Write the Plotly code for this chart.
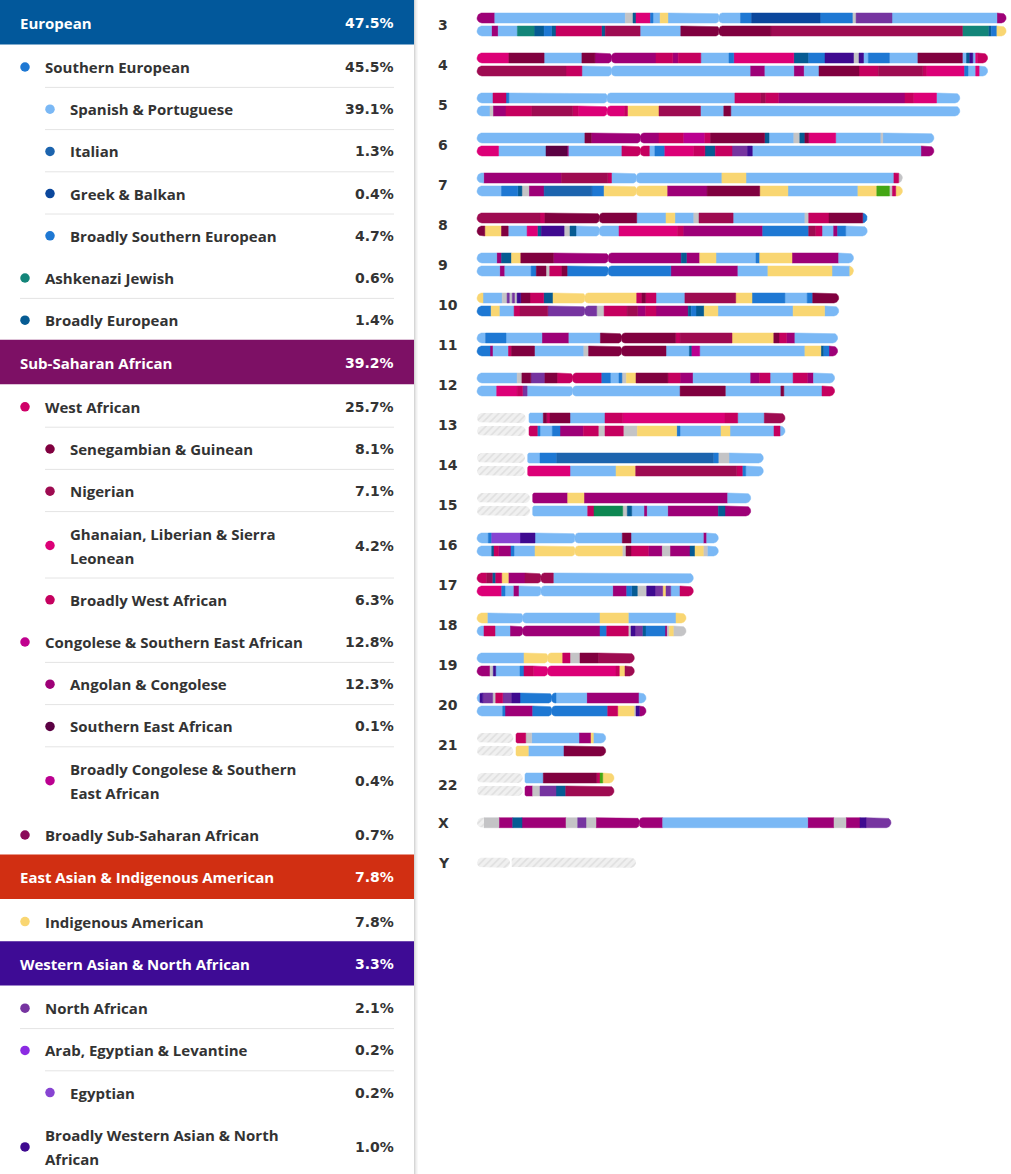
import math
import plotly.graph_objects as go

W, H = 1011, 1174

# ---------------- Palette ----------------
PAL = {
    "hdr_eu": "#02589B", "hdr_ssa": "#7D1065", "hdr_ea": "#D12F12", "hdr_wa": "#3E0B95",
    "lb": "#7AB8F5", "bl": "#1E78D3", "it": "#1C64AE", "gb": "#0B479C", "be": "#065B93",
    "aj": "#138579", "waf": "#CF0068", "ghl": "#DC0077", "bwa": "#C5005F", "nig": "#9E0B51",
    "sen": "#80003F", "cse": "#C0008E", "ang": "#9E0077", "sea": "#5B0143", "bcs": "#BB0090",
    "bss": "#8A0B5A", "ind": "#F9D672", "naf": "#7634A0", "arab": "#8B2BE2", "egy": "#8744D2",
    "bwana": "#3F0A90", "gray": "#C4C4C6", "grn": "#44A614", "grn2": "#0E8752",
}

# ---------------- Left panel data ----------------
ROW_LABELS = [
    "European", "Southern European", "Spanish & Portuguese", "Italian", "Greek & Balkan",
    "Broadly Southern European", "Ashkenazi Jewish", "Broadly European",
    "Sub-Saharan African", "West African", "Senegambian & Guinean", "Nigerian",
    "Ghanaian, Liberian & Sierra\nLeonean", "Broadly West African",
    "Congolese & Southern East African", "Angolan & Congolese", "Southern East African",
    "Broadly Congolese & Southern\nEast African", "Broadly Sub-Saharan African",
    "East Asian & Indigenous American", "Indigenous American",
    "Western Asian & North African", "North African", "Arab, Egyptian & Levantine",
    "Egyptian", "Broadly Western Asian & North\nAfrican",
]
ROW_PCTS = [47.5, 45.5, 39.1, 1.3, 0.4, 4.7, 0.6, 1.4,
            39.2, 25.7, 8.1, 7.1, 4.2, 6.3, 12.8, 12.3, 0.1, 0.4, 0.7,
            7.8, 7.8, 3.3, 2.1, 0.2, 0.2, 1.0]
ROW_LEVELS = [0, 1, 2, 2, 2, 2, 1, 1,
              0, 1, 2, 2, 2, 2, 1, 2, 2, 2, 1,
              0, 1, 0, 1, 1, 2, 1]
ROW_COLORS = ["hdr_eu", "bl", "lb", "it", "gb", "bl", "aj", "be",
              "hdr_ssa", "waf", "sen", "nig", "ghl", "bwa", "cse", "ang", "sea", "bcs", "bss",
              "hdr_ea", "ind", "hdr_wa", "naf", "arab", "egy", "bwana"]

# ---------------- Chromosome painting data (positions in px from chromosome start) ----------------
CHR3_A = [(17.8,'ang'),(148.3,'lb'),(156.0,'gray'),(159.0,'be'),(173.4,'ghl'),(176.0,'bl'),(183.1,'lb'),(190.9,'ind'),(263.5,'lb'),(274.6,'bl'),(343.1,'gb'),(375.4,'bl'),(379.1,'gray'),(415.0,'naf'),(519.9,'lb'),(529.1,'ang')]
CHR3_B = [(14.5,'lb'),(21.2,'ang'),(40.4,'lb'),(57.1,'aj'),(67.1,'be'),(74.5,'bl'),(79.0,'be'),(124.5,'bwa'),(128.2,'be'),(163.1,'nig'),(203.8,'lb'),(293.9,'sen'),(485.4,'nig'),(511.3,'aj'),(514.3,'be'),(519.9,'bl'),(529.1,'ind')]
CHR4_A = [(31.9,'ghl'),(67.1,'sen'),(104.9,'lb'),(117.9,'sen'),(179.0,'ang'),(195.7,'bwa'),(201.2,'ang'),(223.8,'bwa'),(252.0,'lb'),(256.8,'bl'),(316.8,'ghl'),(331.7,'be'),(348.0,'bl'),(376.5,'bwana'),(382.0,'gray'),(386.5,'bwana'),(391.3,'lb'),(412.4,'bl'),(440.9,'lb'),(485.4,'sen'),(489.5,'lb'),(492.8,'be'),(495.8,'bwana'),(498.7,'lb'),(500.6,'ghl'),(510.6,'bwa')]
CHR4_B = [(89.0,'nig'),(104.9,'bwa'),(273.1,'lb'),(287.9,'ang'),(316.8,'lb'),(327.2,'ang'),(342.0,'lb'),(382.0,'sen'),(401.3,'bwa'),(445.8,'nig'),(449.5,'bwa'),(487.6,'ghl'),(491.0,'bl'),(498.7,'lb'),(502.1,'ghl'),(510.6,'lb')]
CHR5_A = [(16.0,'lb'),(29.0,'bwa'),(31.9,'bl'),(257.9,'lb'),(283.9,'bwa'),(288.3,'nig'),(301.3,'bwa'),(428.0,'ang'),(436.5,'bwa'),(459.5,'ghl'),(482.8,'lb')]
CHR5_B = [(13.0,'lb'),(16.0,'gray'),(29.0,'ang'),(54.9,'bwa'),(95.6,'nig'),(101.2,'bwa'),(147.5,'ghl'),(150.5,'bwa'),(182.0,'ind'),(223.5,'nig'),(246.8,'lb'),(253.8,'sen'),(482.8,'lb')]
CHR6_A = [(107.9,'lb'),(114.2,'sen'),(182.0,'ang'),(206.8,'bwa'),(227.2,'bcs'),(233.5,'bwa'),(287.6,'sen'),(292.0,'be'),(316.8,'lb'),(322.8,'gray'),(327.9,'be'),(331.7,'sen'),(358.7,'ghl'),(403.9,'lb'),(405.8,'gray'),(456.9,'lb')]
CHR6_B = [(21.5,'ghl'),(69.0,'lb'),(90.1,'sea'),(91.9,'ang'),(144.9,'lb'),(172.3,'bwa'),(177.9,'lb'),(187.2,'bl'),(216.8,'ghl'),(227.9,'bwa'),(238.3,'be'),(255.0,'bwa'),(270.5,'naf'),(275.3,'bwana'),(443.9,'lb'),(456.9,'ang')]
CHR7_A = [(6.7,'lb'),(84.5,'ang'),(130.8,'nig'),(134.5,'bwa'),(244.9,'lb'),(269.0,'ind'),(416.9,'lb'),(421.7,'bwa'),(425.4,'gray')]
CHR7_B = [(24.5,'lb'),(40.8,'bl'),(44.9,'be'),(51.9,'gray'),(67.1,'ang'),(114.9,'it'),(127.1,'bl'),(190.1,'ind'),(230.1,'ang'),(282.7,'sen'),(310.9,'ind'),(380.9,'lb'),(399.8,'ind'),(412.4,'grn'),(415.4,'gray'),(418.7,'bwa'),(425.4,'ind')]
CHR8_A = [(63.0,'nig'),(67.9,'bwa'),(159.7,'sen'),(189.0,'lb'),(197.9,'ind'),(216.8,'lb'),(222.0,'gray'),(256.1,'nig'),(327.9,'lb'),(331.7,'gray'),(352.0,'bwa'),(385.7,'sen'),(390.2,'bl')]
CHR8_B = [(7.8,'sen'),(24.5,'ind'),(31.2,'sen'),(50.1,'lb'),(60.4,'ghl'),(64.2,'be'),(87.1,'bwana'),(93.0,'gray'),(99.0,'be'),(142.0,'lb'),(200.5,'ghl'),(206.1,'bwa'),(285.7,'ang'),(331.7,'bl'),(338.3,'nig'),(345.0,'bwa'),(356.1,'lb'),(360.6,'ang'),(368.7,'bl'),(390.2,'lb')]
CHR9_A = [(19.7,'lb'),(24.5,'ang'),(34.5,'be'),(43.8,'ind'),(76.4,'sen'),(204.2,'ang'),(209.4,'be'),(222.7,'ang'),(239.0,'ind'),(279.0,'lb'),(282.7,'bl'),(315.0,'ind'),(361.7,'ang'),(376.5,'lb')]
CHR9_B = [(22.7,'lb'),(27.8,'ang'),(54.1,'lb'),(59.3,'bl'),(69.0,'sen'),(72.7,'gray'),(84.9,'bwa'),(90.1,'sen'),(193.8,'bl'),(260.9,'ang'),(290.9,'lb'),(355.0,'ind'),(372.8,'lb'),(376.5,'ind')]
CHR10_A = [(6.0,'ind'),(25.2,'lb'),(30.1,'gray'),(32.3,'naf'),(35.3,'gray'),(37.5,'naf'),(40.1,'gray'),(43.8,'bwana'),(53.0,'sen'),(66.7,'bwa'),(76.0,'be'),(159.7,'ind'),(164.9,'bwa'),(168.6,'sen'),(179.0,'bwa'),(207.9,'lb'),(258.7,'nig'),(275.0,'ind'),(307.9,'bl'),(330.2,'lb'),(335.7,'bl'),(361.7,'sen')]
CHR10_B = [(14.1,'bl'),(22.3,'ind'),(37.1,'lb'),(43.0,'bwa'),(70.8,'nig'),(119.7,'naf'),(127.1,'gray'),(150.1,'bwa'),(160.5,'nig'),(168.6,'ang'),(179.0,'bwa'),(211.2,'ang'),(214.2,'be'),(219.0,'bl'),(227.2,'be'),(240.9,'ind'),(316.1,'lb'),(347.6,'ind'),(361.7,'lb')]
CHR11_A = [(8.6,'lb'),(29.0,'bl'),(64.9,'lb'),(91.9,'ang'),(123.4,'lb'),(198.6,'sen'),(203.1,'bwa'),(255.0,'nig'),(296.8,'ind'),(302.0,'sen'),(309.4,'bwa'),(317.9,'ang'),(360.6,'lb')]
CHR11_B = [(13.0,'bl'),(16.0,'ang'),(31.5,'lb'),(34.5,'bwa'),(57.5,'sen'),(106.8,'lb'),(111.6,'gray'),(189.0,'sen'),(212.4,'lb'),(214.9,'be'),(222.7,'bcs'),(327.9,'lb'),(343.9,'ind'),(346.8,'be'),(352.0,'bl'),(360.6,'ang')]
CHR12_A = [(40.1,'lb'),(44.9,'gray'),(53.8,'sen'),(67.9,'naf'),(80.1,'sen'),(124.2,'bwa'),(133.4,'bl'),(142.0,'lb'),(144.9,'bl'),(149.4,'gray'),(159.0,'ind'),(190.9,'sen'),(203.1,'bwa'),(216.1,'ang'),(273.1,'lb'),(282.7,'ang'),(293.1,'bwa'),(316.1,'lb'),(330.2,'bwa'),(336.5,'ang'),(357.6,'lb')]
CHR12_B = [(19.7,'lb'),(40.1,'ghl'),(45.6,'bwa'),(50.1,'naf'),(203.1,'lb'),(248.3,'sen'),(303.9,'lb'),(306.8,'sen'),(345.0,'lb'),(357.6,'bwa')]
CHR13_A = [(48.7,'na'),(52.0,None),(66.3,'lb'),(69.7,'sen'),(73.0,'bwa'),(93.0,'sen'),(128.0,'lb'),(145.7,'bwa'),(248.0,'ghl'),(260.7,'bwa'),(287.3,'lb'),(308.0,'nig')]
CHR13_B = [(48.7,'na'),(52.0,None),(60.3,'bwa'),(63.0,'bl'),(75.3,'lb'),(83.0,'bl'),(106.3,'ang'),(121.3,'bwa'),(128.0,'gray'),(146.3,'bwa'),(160.3,'gray'),(199.7,'ind'),(203.0,'bl'),(244.0,'lb'),(253.0,'ind'),(297.0,'lb'),(303.0,'bwa'),(308.0,'lb')]
CHR14_A = [(48.0,'na'),(50.7,None),(63.0,'lb'),(79.7,'bl'),(236.3,'it'),(241.3,'bl'),(252.0,'gray'),(286.3,'lb')]
CHR14_B = [(48.0,'na'),(50.7,None),(93.0,'ghl'),(139.0,'lb'),(158.7,'ind'),(259.7,'nig'),(265.3,'bwa'),(268.7,'bl'),(286.3,'lb')]
CHR15_A = [(53.0,'na'),(55.7,None),(90.7,'ang'),(107.0,'ind'),(250.7,'ang'),(273.7,'lb')]
CHR15_B = [(53.0,'na'),(55.7,None),(110.7,'lb'),(117.0,'bwa'),(145.7,'grn2'),(150.3,'gray'),(154.7,'be'),(167.0,'lb'),(170.3,'ang'),(190.7,'lb'),(241.3,'ang'),(248.0,'be'),(273.7,'ang')]
CHR16_A = [(11.3,'lb'),(14.7,'bl'),(43.0,'egy'),(58.0,'bwana'),(145.3,'lb'),(154.0,'sen'),(226.3,'lb'),(229.7,'ang'),(241.3,'lb')]
CHR16_B = [(14.7,'lb'),(17.0,'be'),(21.3,'bwa'),(34.0,'ang'),(37.0,'bl'),(58.0,'lb'),(145.3,'ind'),(149.0,'gray'),(154.0,'sen'),(171.3,'bwa'),(185.3,'ang'),(193.0,'gray'),(213.0,'ang'),(218.0,'be'),(226.3,'ind'),(230.3,'gray'),(241.3,'lb')]
CHR17_A = [(9.7,'bwa'),(15.3,'nig'),(18.7,'be'),(24.7,'bwa'),(31.3,'ind'),(48.0,'ang'),(76.3,'nig'),(216.3,'lb')]
CHR17_B = [(24.7,'ghl'),(28.0,'bl'),(36.3,'lb'),(42.0,'ang'),(135.7,'lb'),(149.7,'ang'),(154.7,'bl'),(160.3,'be'),(169.7,'gray'),(178.0,'bwana'),(185.7,'naf'),(189.0,'ind'),(193.7,'naf'),(203.0,'lb'),(216.3,'bwa')]
CHR18_A = [(10.3,'ind'),(123.0,'lb'),(151.3,'ind'),(199.0,'lb'),(209.0,'ind')]
CHR18_B = [(7.0,'lb'),(18.0,'bwa'),(33.0,'lb'),(123.0,'ang'),(129.7,'bl'),(151.3,'bwa'),(154.0,'gray'),(158.0,'bwana'),(165.3,'naf'),(169.0,'be'),(188.0,'bl'),(190.3,'ang'),(192.3,'gray'),(196.3,'ind'),(209.0,'gray')]
CHR19_A = [(47.0,'lb'),(85.7,'ind'),(93.0,'bwa'),(103.0,'gray'),(121.3,'sen'),(157.3,'nig')]
CHR19_B = [(13.0,'ang'),(16.3,'gray'),(18.7,'bwana'),(43.0,'lb'),(47.0,'bl'),(56.3,'bwa'),(139.0,'ghl'),(142.3,'bwa'),(148.0,'ind'),(157.3,'nig')]
CHR20_A = [(3.0,'lb'),(5.7,'bwana'),(15.7,'naf'),(18.7,'gray'),(25.7,'bwa'),(34.7,'naf'),(43.0,'bwana'),(79.0,'bl'),(109.7,'lb'),(162.0,'ang'),(169.0,'lb')]
CHR20_B = [(25.7,'lb'),(28.0,'bl'),(55.7,'ang'),(130.7,'bl'),(140.7,'bwa'),(157.0,'ind'),(159.0,'gray'),(162.3,'bwana'),(169.0,'ang')]
CHR21_A = [(36.3,'na'),(39.0,None),(48.7,'bwa'),(54.7,'gray'),(102.0,'lb'),(114.0,'ang'),(116.3,'ind'),(128.7,'lb')]
CHR21_B = [(36.3,'na'),(39.0,None),(51.3,'ind'),(87.0,'lb'),(128.7,'sen')]
CHR22_A = [(45.7,'na'),(48.0,None),(66.3,'lb'),(119.7,'sen'),(123.0,'bwa'),(125.7,'grn'),(137.0,'ind')]
CHR22_B = [(45.7,'na'),(48.0,None),(55.7,'ang'),(63.0,'gray'),(79.0,'naf'),(88.7,'be'),(137.0,'nig')]
CHR_X = [(7.0,'na'),(22.0,'gray'),(35.7,'ang'),(45.0,'be'),(89.0,'ang'),(100.7,'gray'),(109.0,'naf'),(119.0,'gray'),(185.7,'ang'),(330.7,'lb'),(357.0,'ang'),(369.0,'gray'),(383.0,'ang'),(389.0,'bwana'),(414.0,'naf')]
CHR_Y = [(33.0,'na'),(34.7,None),(159.0,'na')]

CHROM_NAMES = ["3", "4", "5", "6", "7", "8", "9", "10", "11", "12", "13", "14", "15",
               "16", "17", "18", "19", "20", "21", "22", "X", "Y"]
CENTROMERES = [242.0, 134.5, 130.1, 163.4, 159.4, 122.3, 131.2, 107.9, 144.5, 95.6,
               None, None, None, 98.0, 64.0, 45.7, 70.7, 74.7, None, None, 162.3, None]
CHROM_STRANDS = [
    [CHR3_A, CHR3_B], [CHR4_A, CHR4_B], [CHR5_A, CHR5_B], [CHR6_A, CHR6_B],
    [CHR7_A, CHR7_B], [CHR8_A, CHR8_B], [CHR9_A, CHR9_B], [CHR10_A, CHR10_B],
    [CHR11_A, CHR11_B], [CHR12_A, CHR12_B], [CHR13_A, CHR13_B], [CHR14_A, CHR14_B],
    [CHR15_A, CHR15_B], [CHR16_A, CHR16_B], [CHR17_A, CHR17_B], [CHR18_A, CHR18_B],
    [CHR19_A, CHR19_B], [CHR20_A, CHR20_B], [CHR21_A, CHR21_B], [CHR22_A, CHR22_B],
    [CHR_X], [CHR_Y],
]

# ---------------- Geometry helpers ----------------
R = 5.0     # half thickness of a strand
RC = 3.4    # centromere pinch corner radius
FONT = "Open Sans"
PFONT = "DejaVu Sans"
FS = 15
TXT = "#333333"
TDY = 1.5   # small downward nudge of left-panel text


def arms_for(segs, cen):
    end = segs[-1][0]
    prev = 0.0
    gap = None
    for e, k in segs:
        if k is None:
            gap = (prev, e)
        prev = e
    if gap:
        return [(0.0, gap[0], R, R), (gap[1], end, 1.5, R)]
    if cen is None:
        return [(0.0, end, R, R)]
    return [(0.0, cen, R, RC), (cen, end, RC, R)]


def half_h(x, arm):
    a, b, cl, cr = arm
    h = R
    if cl > 0 and x < a + cl:
        d = a + cl - x
        h = min(h, R - cl + math.sqrt(max(cl * cl - d * d, 0.0)))
    if cr > 0 and x > b - cr:
        d = x - (b - cr)
        h = min(h, R - cr + math.sqrt(max(cr * cr - d * d, 0.0)))
    return h


def seg_polygon(x0, x1, arm, yc):
    a, b, cl, cr = arm
    xs = {x0, x1}
    step = 0.2
    for lo, hi in ((a, a + cl), (b - cr, b)):
        t = lo
        while t <= hi:
            if x0 < t < x1:
                xs.add(t)
            t += step
    xs = sorted(xs)
    px = xs + xs[::-1] + [xs[0]]
    py = [yc - half_h(x, arm) for x in xs] + [yc + half_h(x, arm) for x in xs[::-1]] + [yc - half_h(xs[0], arm)]
    return px, py


def strand_y(i, j, n):
    if n == 1:
        return 822.7 + 40 * (i - 20)
    return 18.0 + 40 * i + 13.0 * j


polys = {}
for i, strands in enumerate(CHROM_STRANDS):
    for j, segs in enumerate(strands):
        yc = strand_y(i, j, len(strands))
        arms = arms_for(segs, CENTROMERES[i])
        prev = 0.0
        for e, k in segs:
            if k is not None:
                for arm in arms:
                    s0, s1 = max(prev, arm[0]), min(e, arm[1])
                    if s1 - s0 > 0.01:
                        px, py = seg_polygon(s0, s1, arm, yc)
                        xs, ys = polys.setdefault(k, ([], []))
                        xs.extend(px + [None])
                        ys.extend(py + [None])
            prev = e

fig = go.Figure()

for k, (xs, ys) in polys.items():
    if k == 'na':
        fig.add_trace(go.Scatter(
            x=xs, y=ys, mode='lines', fill='toself', line=dict(width=0, color='#EEEEEE'),
            fillcolor='#EFEFEF',
            fillpattern=dict(shape='/', fgcolor='#CDCDCD', bgcolor='#F0F0F0', size=5, solidity=0.3),
            hoverinfo='skip', showlegend=False, xaxis='x', yaxis='y'))
    else:
        c = PAL[k]
        fig.add_trace(go.Scatter(
            x=xs, y=ys, mode='lines', fill='toself', line=dict(width=0.5, color=c),
            fillcolor=c, hoverinfo='skip', showlegend=False, xaxis='x', yaxis='y'))

annotations = []
shapes = []

# chromosome labels
for i, name in enumerate(CHROM_NAMES):
    n = len(CHROM_STRANDS[i])
    yl = strand_y(i, 0, n) if n == 1 else (strand_y(i, 0, 2) + strand_y(i, 1, 2)) / 2
    annotations.append(dict(x=436, y=yl, xref='x2', yref='y', text=f"<b>{name}</b>",
                            showarrow=False, xanchor='left', yanchor='middle',
                            font=dict(family=PFONT, size=14, color=TXT)))

# ---------------- Left panel ----------------
HDR_H, ROW_H, ROW2_H = 44.4, 42.2, 66.4
y = 0.0
dot_x, dot_y, dot_c = [], [], []
for idx, (lab, pct, lev, ck) in enumerate(zip(ROW_LABELS, ROW_PCTS, ROW_LEVELS, ROW_COLORS)):
    lines = lab.split("\n")
    if lev == 0:
        h = HDR_H
    else:
        h = ROW2_H if len(lines) > 1 else ROW_H
    yc = y + h / 2
    if lev == 0:
        shapes.append(dict(type='rect', xref='x2', yref='y', x0=0, x1=414, y0=y, y1=y + h,
                           fillcolor=PAL[ck], line=dict(width=0), layer='below'))
        annotations.append(dict(x=18, y=yc + 0.5, xref='x2', yref='y', text=f"<b>{lab}</b>",
                                showarrow=False, xanchor='left', yanchor='middle',
                                font=dict(family=FONT, size=FS, color='white')))
        annotations.append(dict(x=395.5, y=yc + 0.5, xref='x2', yref='y', text=f"<b>{pct:.1f}%</b>",
                                showarrow=False, xanchor='right', yanchor='middle',
                                font=dict(family=PFONT, size=14, color='white')))
    else:
        tx = 43 if lev == 1 else 68
        dx = 25 if lev == 1 else 50
        prev_lev = ROW_LEVELS[idx - 1]
        if lev == 2 or (lev == 1 and prev_lev == 1):
            shapes.append(dict(type='line', xref='x2', yref='y', x0=20 if lev == 1 else 45,
                               x1=394, y0=y + 0.8, y1=y + 0.8, line=dict(color='#E4E4E4', width=1)))
        dot_x.append(dx)
        dot_y.append(yc + TDY)
        dot_c.append(PAL[ck])
        nl = len(lines)
        for li, ln in enumerate(lines):
            ly = yc + TDY + (li - (nl - 1) / 2) * 24
            annotations.append(dict(x=tx, y=ly, xref='x2', yref='y', text=f"<b>{ln}</b>",
                                    showarrow=False, xanchor='left', yanchor='middle',
                                    font=dict(family=FONT, size=FS, color=TXT)))
        annotations.append(dict(x=395.5, y=yc + TDY, xref='x2', yref='y', text=f"<b>{pct:.1f}%</b>",
                                showarrow=False, xanchor='right', yanchor='middle',
                                font=dict(family=PFONT, size=14, color=TXT)))
    y += h

fig.add_trace(go.Scatter(x=dot_x, y=dot_y, mode='markers', xaxis='x2', yaxis='y',
                         marker=dict(size=9.5, color=dot_c, line=dict(width=0)),
                         hoverinfo='skip', showlegend=False))

# panel edge / shadow
for off, col in [(414.5, '#D6D6D6'), (415.5, '#E6E6E6'), (416.5, '#F1F1F1'), (417.5, '#F8F8F8')]:
    shapes.append(dict(type='line', xref='x2', yref='y', x0=off, x1=off, y0=0, y1=H,
                       line=dict(color=col, width=1)))

fig.update_layout(
    width=W, height=H, margin=dict(l=0, r=0, t=0, b=0),
    paper_bgcolor='white', plot_bgcolor='white',
    xaxis=dict(domain=[0, 1], range=[-477, W - 477], visible=False, fixedrange=True),
    xaxis2=dict(domain=[0, 1], range=[0, W], overlaying='x', visible=False, fixedrange=True),
    yaxis=dict(domain=[0, 1], range=[H, 0], visible=False, fixedrange=True),
    annotations=annotations, shapes=shapes, showlegend=False,
)

fig.write_html("out.html", config={"displayModeBar": False},
               post_script="document.body.style.margin='0';document.body.style.overflow='hidden';")
